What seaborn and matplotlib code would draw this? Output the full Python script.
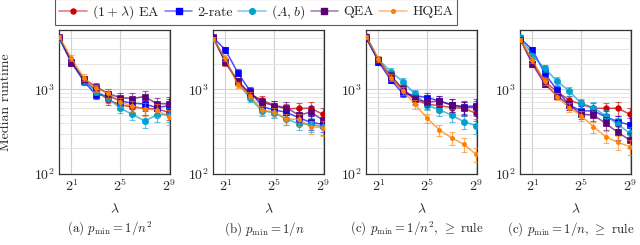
import matplotlib
matplotlib.use("Agg")
import matplotlib.pyplot as plt
from matplotlib.lines import Line2D
from matplotlib.colors import to_rgba
import seaborn as sns
import pandas as pd
import numpy as np

# Données (médianes, lambda = 2^0 ... 2^9)
lambdas = [1, 2, 4, 8, 16, 32, 64, 128, 256, 512]
algos = ['(1+λ) EA', '2-rate', '(A,b)', 'QEA', 'HQEA']
legend_labels = [r'$(1+\lambda)$ EA', '2-rate', r'$(A,b)$', 'QEA', 'HQEA']

panel_a = {
    '(1+λ) EA': [4050, 2100, 1290, 980, 750, 655, 615, 595, 585, 535],
    '2-rate':   [4000, 2080, 1250, 860, 840, 728, 684, 671, 607, 640],
    '(A,b)':    [3950, 2120, 1270, 940, 783, 596, 507, 422, 497, 507],
    'QEA':      [4100, 2060, 1330, 1075, 890, 797, 777, 820, 677, 671],
    'HQEA':     [4150, 2320, 1370, 1030, 897, 702, 636, 586, 570, 471],
}
panel_b = {
    '(1+λ) EA': [4000, 2070, 1240, 870, 748, 641, 586, 596, 596, 507],
    '2-rate':   [4050, 2915, 1573, 965, 624, 570, 535, 463, 407, 386],
    '(A,b)':    [3950, 2150, 1200, 783, 555, 530, 446, 393, 386, 362],
    'QEA':      [4150, 2085, 1254, 897, 702, 641, 607, 497, 535, 434],
    'HQEA':     [3900, 2320, 1125, 842, 570, 535, 446, 442, 362, 352],
}
panel_c = {
    '(1+λ) EA': [4050, 2200, 1374, 982, 748, 665, 641, 607, 596, 521],
    '2-rate':   [4000, 2120, 1289, 897, 842, 797, 728, 653, 624, 636],
    '(A,b)':    [4250, 2250, 1617, 1232, 873, 653, 570, 497, 415, 372],
    'QEA':      [4100, 2200, 1450, 1009, 769, 702, 728, 653, 607, 610],
    'HQEA':     [4150, 2280, 1374, 956, 665, 455, 331, 268, 224, 171],
}
panel_d = {
    '(1+λ) EA': [3950, 2085, 1240, 939, 748, 665, 596, 596, 596, 507],
    '2-rate':   [4000, 2915, 1545, 982, 653, 555, 555, 476, 415, 379],
    '(A,b)':    [4185, 2500, 1770, 1254, 956, 684, 607, 489, 386, 302],
    'QEA':      [3850, 1973, 1156, 842, 653, 507, 497, 397, 310, 252],
    'HQEA':     [3850, 2200, 1240, 819, 607, 489, 362, 276, 237, 210],
}
panels = [panel_a, panel_b, panel_c, panel_d]
captions = [r'(a) $p_{\min} = 1/n^2$',
            r'(b) $p_{\min} = 1/n$',
            r'(c) $p_{\min} = 1/n^2$, $\geq$ rule',
            r'(c) $p_{\min} = 1/n$, $\geq$ rule']

# Demi-largeur relative des barres d'erreur, lue approximativement
rel_err = [0.05, 0.08, 0.09, 0.10, 0.12, 0.13, 0.15, 0.17, 0.18, 0.20]

colors = ['#cc0000', '#0000ff', '#00a0d0', '#5c0078', '#ff8000']
markers = ['o', 's', 'o', 's', 'o']
msizes = [4, 4.5, 4.5, 5, 3]

sns.set_theme(style='whitegrid')
plt.rcParams['font.family'] = ['serif']
plt.rcParams['font.serif'] = ['cmr10']
plt.rcParams['mathtext.fontset'] = 'cm'
plt.rcParams['axes.unicode_minus'] = False
plt.rcParams['axes.formatter.use_mathtext'] = True

fig = plt.figure(figsize=(6.4, 2.45), dpi=100)
lefts = [59.3, 213.3, 366.3, 520.3]
ax_w = (169.5 - 59.3) / 640
ax_b = 1 - 174 / 245
ax_h = 144 / 245
fs = 10

for i, data in enumerate(panels):
    ax = fig.add_axes([lefts[i] / 640, ax_b, ax_w, ax_h])
    for j, name in enumerate(algos):
        vals = np.array(data[name], dtype=float)
        df = pd.DataFrame({'lambda': lambdas, 'runtime': vals})
        err = vals * np.array(rel_err)
        ax.errorbar(lambdas, vals, yerr=err, fmt='none',
                    ecolor=to_rgba(colors[j], 0.6), elinewidth=0.9,
                    capsize=2.5, capthick=0.8, zorder=2 + j)
        sns.lineplot(data=df, x='lambda', y='runtime', ax=ax,
                     color=to_rgba(colors[j], 0.7), linewidth=1.1,
                     marker=markers[j], markersize=msizes[j],
                     markerfacecolor=colors[j], markeredgecolor=colors[j],
                     markeredgewidth=0.5, zorder=3 + j)
    ax.set_xscale('log', base=2)
    ax.set_yscale('log')
    ax.set_xlim(1, 2 ** 9.05)
    ax.set_ylim(100, 5000)
    ax.set_xticks([2, 32, 512])
    ax.set_xticklabels([r'$2^{1}$', r'$2^{5}$', r'$2^{9}$'])
    ax.set_yticks([100, 1000])
    ax.set_yticklabels([r'$10^{2}$', r'$10^{3}$'])
    ax.yaxis.set_minor_locator(matplotlib.ticker.LogLocator(base=10, subs=np.arange(2, 10)))
    ax.yaxis.set_minor_formatter(matplotlib.ticker.NullFormatter())
    ax.xaxis.set_minor_locator(matplotlib.ticker.NullLocator())
    ax.grid(True, which='major', color='#d0d0d0', linewidth=0.8)
    ax.grid(True, which='minor', axis='y', color='#e0e0e0', linewidth=0.6)
    ax.set_facecolor('white')
    for sp in ax.spines.values():
        sp.set_color('#333333')
        sp.set_linewidth(0.9)
    ax.tick_params(axis='both', which='major', labelsize=fs, direction='in',
                   length=3, color='#333333', pad=3)
    ax.tick_params(axis='y', which='minor', direction='in', length=1.5, color='#333333')
    ax.set_xlabel(r'$\lambda$', fontsize=fs, labelpad=6)
    if i == 0:
        ax.set_ylabel('Median runtime', fontsize=fs)
        ax.yaxis.set_label_coords(-0.43, 0.5)
    else:
        ax.set_ylabel('')
    ax.text(0.46, -0.38, captions[i], transform=ax.transAxes,
            ha='center', va='center', fontsize=9.3)
    if ax.get_legend() is not None:
        ax.get_legend().remove()

handles = [Line2D([0], [0], color=to_rgba(c, 0.5), linewidth=1.2, marker=m,
                  markersize=s * 0.9, markerfacecolor=c, markeredgecolor=c)
           for c, m, s in zip(colors, markers, msizes)]
leg = fig.legend(handles, legend_labels, loc='center', ncol=5,
                 bbox_to_anchor=(256 / 640, 1 - 12 / 245), fontsize=fs,
                 frameon=True, fancybox=False, edgecolor='#333333',
                 handlelength=2.0, handletextpad=0.35, columnspacing=0.4,
                 borderpad=0.3, borderaxespad=0.2)
leg.get_frame().set_linewidth(0.8)

fig.savefig('out.png', dpi=100)
